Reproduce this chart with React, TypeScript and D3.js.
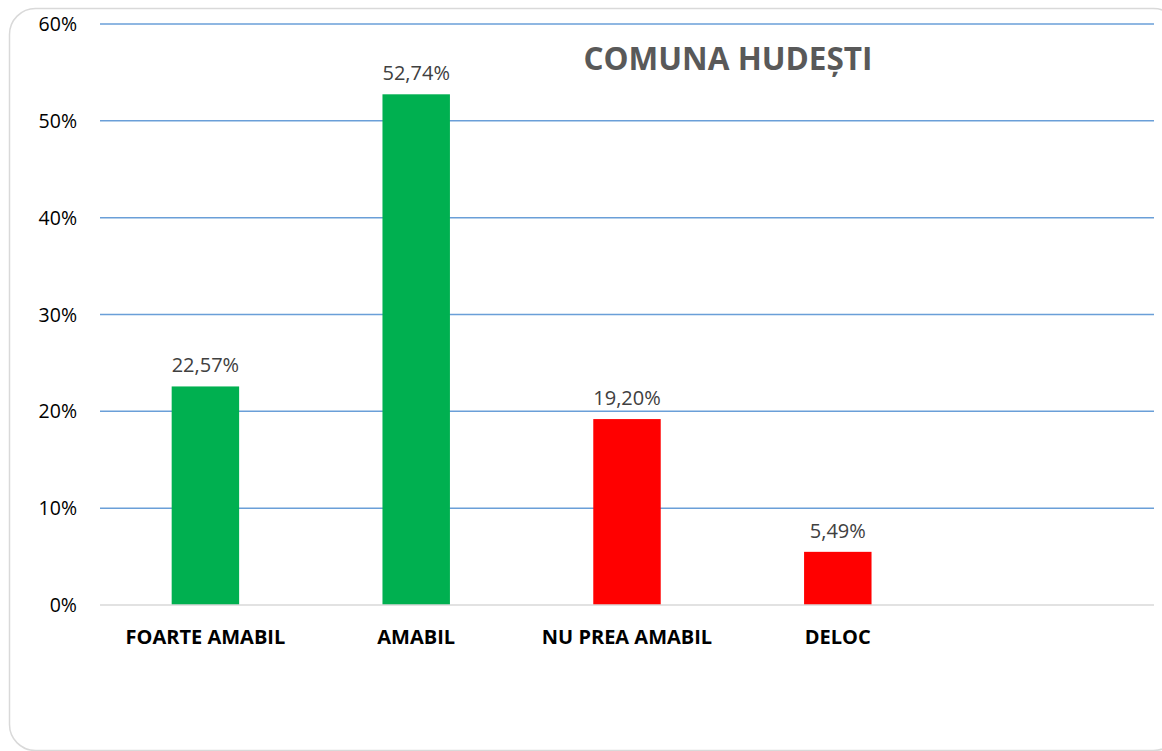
import * as d3 from "d3";
import { useRef, useEffect } from "react";

const categories = ["FOARTE AMABIL", "AMABIL", "NU PREA AMABIL", "DELOC", ""];
const values = [22.57, 52.74, 19.2, 5.49, null];
const barColors = ["#00B050", "#00B050", "#FF0000", "#FF0000", "#FF0000"];
const yTicks = [0, 10, 20, 30, 40, 50, 60];
const title = "COMUNA HUDEȘTI";

const W = 1162;
const H = 751;

const App = () => {
  const ref = useRef<SVGSVGElement>(null);

  useEffect(() => {
    const svg = d3.select(ref.current);
    svg.selectAll("*").remove();

    const left = 100;
    const right = 1154;
    const top = 24;
    const bottom = 605;
    const font = "'Open Sans', 'Noto Sans', sans-serif";

    // frame
    svg.append("rect")
      .attr("x", 9.5)
      .attr("y", 8.5)
      .attr("width", 1170)
      .attr("height", 742)
      .attr("rx", 26)
      .attr("fill", "#fff")
      .attr("stroke", "#d9d9d9")
      .attr("stroke-width", 1.5);

    const keys = categories.map((c, i) => c || `_${i}`);

    const x = d3.scaleBand<string>()
      .domain(keys)
      .range([left, right])
      .paddingInner(0.68)
      .paddingOuter(0.34);

    const y = d3.scaleLinear().domain([0, 60]).range([bottom, top]);

    // gridlines
    svg.append("g")
      .selectAll("line")
      .data(yTicks.filter((t) => t > 0))
      .join("line")
      .attr("x1", left)
      .attr("x2", right)
      .attr("y1", (d) => y(d))
      .attr("y2", (d) => y(d))
      .attr("stroke", "#6A9FD8")
      .attr("stroke-width", 1.5);

    // y labels
    svg.append("g")
      .selectAll("text")
      .data(yTicks)
      .join("text")
      .attr("x", 77)
      .attr("y", (d) => y(d) + 7)
      .attr("text-anchor", "end")
      .attr("font-family", font)
      .attr("font-size", 19.5)
      .attr("fill", "#000")
      .text((d) => `${d}%`);

    // bars
    svg.append("g")
      .selectAll("rect")
      .data(values.map((v, i) => ({ v, k: keys[i], c: barColors[i] })).filter((d) => d.v !== null))
      .join("rect")
      .attr("x", (d) => x(d.k)!)
      .attr("y", (d) => y(d.v as number))
      .attr("width", x.bandwidth())
      .attr("height", (d) => bottom - y(d.v as number))
      .attr("fill", (d) => d.c);

    // baseline
    svg.append("line")
      .attr("x1", left)
      .attr("x2", right)
      .attr("y1", bottom)
      .attr("y2", bottom)
      .attr("stroke", "#d9d9d9")
      .attr("stroke-width", 1.5);

    // value labels
    svg.append("g")
      .selectAll("text")
      .data(values.map((v, i) => ({ v, k: keys[i] })).filter((d) => d.v !== null))
      .join("text")
      .attr("x", (d) => x(d.k)! + x.bandwidth() / 2)
      .attr("y", (d) => y(d.v as number) - 14)
      .attr("text-anchor", "middle")
      .attr("font-family", font)
      .attr("font-size", 20)
      .attr("fill", "#404040")
      .text((d) => `${(d.v as number).toFixed(2).replace(".", ",")}%`);

    // category labels
    svg.append("g")
      .selectAll("text")
      .data(categories.map((c, i) => ({ c, k: keys[i] })).filter((d) => d.c))
      .join("text")
      .attr("x", (d) => x(d.k)! + x.bandwidth() / 2)
      .attr("y", 644)
      .attr("text-anchor", "middle")
      .attr("font-family", font)
      .attr("font-size", 20)
      .attr("font-weight", "bold")
      .attr("fill", "#000")
      .text((d) => d.c);

    // title
    svg.append("text")
      .attr("x", 728)
      .attr("y", 70)
      .attr("text-anchor", "middle")
      .attr("font-family", font)
      .attr("font-size", 31.5)
      .attr("font-weight", "bold")
      .attr("fill", "#595959")
      .text(title);
  }, []);

  return (
    <svg
      ref={ref}
      width={W}
      height={H}
      style={{ position: "absolute", left: 0, top: 0 }}
    />
  );
};

export default App;
